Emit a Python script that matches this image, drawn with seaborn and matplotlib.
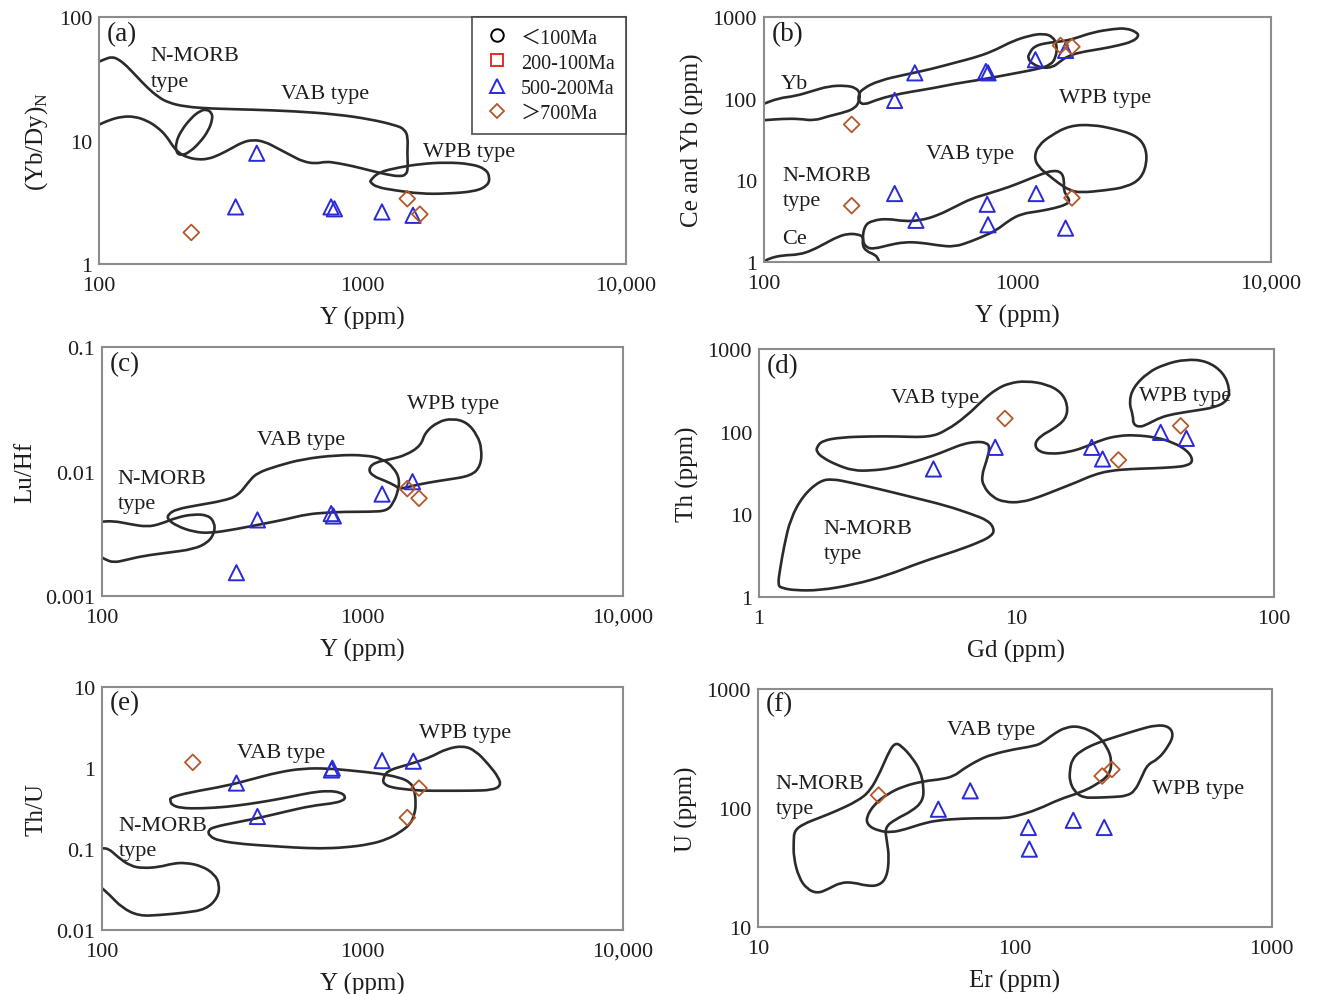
import numpy as np
import matplotlib
matplotlib.use("Agg")
import matplotlib.pyplot as plt
import seaborn as sns
from matplotlib.path import Path
from matplotlib.patches import PathPatch
from matplotlib.lines import Line2D
from matplotlib.ticker import FixedLocator, LogLocator, FuncFormatter, NullFormatter

sns.set_style("white")
plt.rcParams["font.family"] = ["Liberation Serif", "Noto Sans CJK SC"]
plt.rcParams["mathtext.fontset"] = "custom"
plt.rcParams["mathtext.rm"] = "Liberation Serif"

# ---------------- legend ----------------
LEGEND_LABELS = ["＜100Ma", "200-100Ma", "500-200Ma", "＞700Ma"]

# ---------------- sample data ----------------
A_TRI_X = [397, 330, 760, 783, 1186, 1556]
A_TRI_Y = [7.9, 2.9, 2.9, 2.8, 2.64, 2.48]
A_DIA_X = [224, 1480, 1652]
A_DIA_Y = [1.8, 3.38, 2.53]

B_YB_TRI_X = [328, 394, 751, 766, 1178, 1549]
B_YB_TRI_Y = [95.5, 208, 216, 208, 301, 392]
B_YB_DIA_X = [222, 1479, 1641]
B_YB_DIA_Y = [48.5, 450, 435]
B_CE_TRI_X = [328, 398, 760, 766, 1186, 1549]
B_CE_TRI_Y = [6.9, 3.24, 5.1, 2.86, 6.9, 2.6]
B_CE_DIA_X = [222, 1641]
B_CE_DIA_Y = [4.9, 6.1]

C_TRI_X = [395, 328, 758, 773, 1189, 1556]
C_TRI_Y = [0.00409, 0.00154, 0.0046, 0.0044, 0.0066, 0.0083]
C_DIA_X = [1486, 1648]
C_DIA_Y = [0.0073, 0.0061]

D_TRI_X = [4.76, 8.27, 19.6, 21.6, 36.3, 45.7]
D_TRI_Y = [35.5, 64.9, 64.9, 46.9, 98.4, 83.4]
D_DIA_X = [9.02, 24.9, 43.4]
D_DIA_Y = [145, 45.6, 118]

E_TRI_X = [328, 395, 766, 760, 1189, 1567]
E_TRI_Y = [0.655, 0.253, 1.0, 0.95, 1.24, 1.22]
E_DIA_X = [223, 1648, 1486]
E_DIA_Y = [1.18, 0.567, 0.245]

F_TRI_X = [50.4, 67.1, 113, 114, 169, 223]
F_TRI_Y = [97.6, 139, 68.6, 45.2, 78.8, 68.6]
F_DIA_X = [29.5, 219, 239]
F_DIA_Y = [128, 185, 210]

# ---------------- field outlines (log10 x, log10 y) ----------------
A_FIELD_MAIN = [(1.99, 1.63), (2.024, 1.662), (2.048, 1.678), (2.072, 1.662), (2.104, 1.608), (2.144, 1.517),
                (2.184, 1.428), (2.223, 1.356), (2.263, 1.307), (2.327, 1.275), (2.423, 1.259), (2.583, 1.251),
                (2.742, 1.238), (2.902, 1.213), (3.030, 1.173), (3.125, 1.125), (3.160, 1.093), (3.173, 1.026),
                (3.170, 0.905), (3.173, 0.770), (3.165, 0.722), (3.141, 0.709), (3.093, 0.725), (3.030, 0.757),
                (2.966, 0.792), (2.902, 0.819), (2.862, 0.830), (2.822, 0.813), (2.774, 0.830), (2.726, 0.883),
                (2.678, 0.937), (2.630, 0.991), (2.583, 1.007), (2.543, 0.985), (2.503, 0.937), (2.455, 0.883),
                (2.415, 0.851), (2.375, 0.846), (2.335, 0.864), (2.303, 0.899), (2.279, 0.958), (2.255, 1.039),
                (2.223, 1.106), (2.184, 1.160), (2.136, 1.195), (2.088, 1.195), (2.040, 1.168), (1.99, 1.119)]
A_FIELD_LOOP = [(2.407, 1.254), (2.428, 1.227), (2.431, 1.173), (2.415, 1.079), (2.383, 0.985), (2.343, 0.905),
                (2.311, 0.878), (2.292, 0.905), (2.292, 0.985), (2.311, 1.079), (2.351, 1.187), (2.383, 1.240)]
A_FIELD_WPB = [(3.030, 0.676), (3.061, 0.744), (3.141, 0.784), (3.221, 0.811), (3.317, 0.824), (3.413, 0.811),
               (3.468, 0.770), (3.484, 0.703), (3.476, 0.636), (3.429, 0.588), (3.317, 0.569), (3.221, 0.569),
               (3.125, 0.596), (3.053, 0.623), (3.030, 0.663)]

B_YB_NMORB = [(1.99, 1.927), (2.058, 2.008), (2.124, 2.033), (2.190, 2.094), (2.256, 2.155), (2.322, 2.163),
              (2.364, 2.135), (2.380, 2.061), (2.375, 1.959), (2.359, 1.886), (2.322, 1.837), (2.256, 1.788),
              (2.198, 1.731), (2.140, 1.755), (2.074, 1.755), (1.99, 1.735)]
B_YB_VAB = [(2.372, 2.041), (2.388, 2.122), (2.455, 2.224), (2.554, 2.294), (2.653, 2.359), (2.752, 2.441),
            (2.851, 2.522), (2.917, 2.604), (2.983, 2.710), (3.050, 2.776), (3.102, 2.800), (3.140, 2.763),
            (3.157, 2.653), (3.152, 2.510), (3.132, 2.416), (3.083, 2.367), (3.000, 2.318), (2.917, 2.269),
            (2.835, 2.224), (2.752, 2.184), (2.669, 2.131), (2.587, 2.090), (2.504, 2.041), (2.438, 1.980),
            (2.397, 1.927), (2.375, 1.959)]
B_YB_WPB = [(3.046, 2.551), (3.066, 2.645), (3.116, 2.686), (3.174, 2.702), (3.223, 2.735), (3.298, 2.816),
            (3.380, 2.857), (3.430, 2.865), (3.471, 2.816), (3.479, 2.767), (3.455, 2.702), (3.397, 2.653),
            (3.331, 2.612), (3.248, 2.571), (3.198, 2.522), (3.165, 2.449), (3.140, 2.388), (3.099, 2.376),
            (3.058, 2.429), (3.041, 2.498)]
B_CE_NMORB = [(1.99, -0.01), (2.025, 0.049), (2.074, 0.082), (2.140, 0.090), (2.190, 0.143), (2.240, 0.224),
              (2.289, 0.306), (2.331, 0.347), (2.372, 0.339), (2.393, 0.306), (2.388, 0.204), (2.405, 0.131),
              (2.438, 0.090), (2.451, 0.041), (2.455, -0.01)]
B_CE_VAB = [(2.397, 0.449), (2.430, 0.510), (2.488, 0.531), (2.554, 0.498), (2.620, 0.510), (2.686, 0.571),
            (2.752, 0.673), (2.818, 0.776), (2.884, 0.837), (2.967, 0.918), (3.033, 1.000), (3.099, 1.082),
            (3.140, 1.122), (3.174, 1.102), (3.185, 1.000), (3.182, 0.878), (3.198, 0.796), (3.207, 0.743),
            (3.190, 0.702), (3.149, 0.661), (3.083, 0.620), (3.017, 0.592), (2.967, 0.510), (2.917, 0.388),
            (2.868, 0.318), (2.818, 0.253), (2.752, 0.184), (2.686, 0.204), (2.620, 0.237), (2.554, 0.245),
            (2.488, 0.204), (2.438, 0.163), (2.405, 0.171), (2.388, 0.265)]
B_CE_WPB = [(3.066, 1.286), (3.083, 1.429), (3.132, 1.551), (3.207, 1.673), (3.298, 1.682), (3.380, 1.633),
            (3.463, 1.559), (3.504, 1.429), (3.512, 1.224), (3.488, 1.020), (3.430, 0.918), (3.347, 0.878),
            (3.248, 0.849), (3.207, 0.878), (3.165, 0.959), (3.124, 1.061), (3.083, 1.163)]

C_NMORB = [(1.99, -2.404), (2.044, -2.396), (2.108, -2.423), (2.173, -2.444), (2.222, -2.423), (2.286, -2.369),
           (2.351, -2.342), (2.407, -2.350), (2.432, -2.409), (2.432, -2.490), (2.407, -2.570), (2.351, -2.624),
           (2.254, -2.651), (2.157, -2.678), (2.092, -2.710), (2.044, -2.732), (2.011, -2.705), (1.99, -2.678)]
C_VAB = [(2.254, -2.342), (2.286, -2.302), (2.367, -2.270), (2.464, -2.235), (2.521, -2.195), (2.561, -2.087),
         (2.593, -2.012), (2.674, -1.953), (2.771, -1.899), (2.901, -1.867), (3.014, -1.867), (3.078, -1.899),
         (3.119, -1.966), (3.143, -2.060), (3.135, -2.168), (3.119, -2.248), (3.095, -2.315), (3.030, -2.323),
         (2.933, -2.323), (2.868, -2.329), (2.787, -2.342), (2.707, -2.383), (2.610, -2.423), (2.513, -2.463),
         (2.416, -2.495), (2.351, -2.485), (2.286, -2.436), (2.251, -2.383)]
C_WPB = [(3.022, -1.980), (3.046, -1.926), (3.111, -1.899), (3.167, -1.867), (3.224, -1.792), (3.240, -1.685),
         (3.289, -1.599), (3.345, -1.572), (3.402, -1.604), (3.442, -1.711), (3.458, -1.819), (3.454, -1.953),
         (3.418, -2.034), (3.321, -2.066), (3.256, -2.087), (3.192, -2.114), (3.143, -2.141), (3.127, -2.114),
         (3.087, -2.074), (3.038, -2.034)]

D_VAB = [(0.224, 1.812), (0.245, 1.892), (0.318, 1.933), (0.433, 1.945), (0.531, 1.945), (0.661, 1.933),
         (0.727, 2.013), (0.808, 2.195), (0.873, 2.396), (0.922, 2.517), (0.971, 2.589), (1.037, 2.617),
         (1.118, 2.577), (1.176, 2.476), (1.200, 2.315), (1.192, 2.154), (1.143, 2.033), (1.094, 1.953),
         (1.069, 1.852), (1.086, 1.760), (1.135, 1.731), (1.200, 1.752), (1.265, 1.812), (1.331, 1.905),
         (1.396, 1.953), (1.461, 1.961), (1.543, 1.933), (1.608, 1.872), (1.665, 1.772), (1.687, 1.651),
         (1.665, 1.590), (1.608, 1.570), (1.527, 1.558), (1.445, 1.550), (1.363, 1.530), (1.298, 1.478),
         (1.233, 1.389), (1.167, 1.309), (1.086, 1.208), (1.020, 1.147), (0.955, 1.147), (0.906, 1.208),
         (0.870, 1.349), (0.865, 1.470), (0.882, 1.631), (0.898, 1.812), (0.882, 1.872), (0.841, 1.880),
         (0.792, 1.852), (0.743, 1.792), (0.678, 1.711), (0.596, 1.631), (0.514, 1.558), (0.433, 1.530),
         (0.367, 1.530), (0.302, 1.598), (0.245, 1.691), (0.224, 1.760)]
D_NMORB = [(0.073, 0.141), (0.082, 0.342), (0.098, 0.624), (0.122, 0.946), (0.171, 1.228), (0.237, 1.409),
           (0.286, 1.429), (0.351, 1.389), (0.465, 1.309), (0.596, 1.208), (0.727, 1.107), (0.824, 1.006),
           (0.890, 0.926), (0.914, 0.825), (0.906, 0.745), (0.857, 0.664), (0.759, 0.551), (0.629, 0.422),
           (0.498, 0.261), (0.367, 0.149), (0.237, 0.080), (0.139, 0.080), (0.090, 0.108)]
D_WPB = [(1.453, 2.195), (1.437, 2.356), (1.453, 2.537), (1.510, 2.718), (1.576, 2.819), (1.657, 2.879),
         (1.739, 2.859), (1.804, 2.718), (1.829, 2.517), (1.820, 2.376), (1.771, 2.295), (1.690, 2.255),
         (1.608, 2.215), (1.559, 2.174), (1.510, 2.094), (1.478, 2.054), (1.453, 2.094)]

E_VAB = [(2.262, -0.362), (2.335, -0.300), (2.480, -0.217), (2.577, -0.135), (2.674, -0.052), (2.771, -0.003),
         (2.868, -0.003), (2.965, -0.032), (3.062, -0.065), (3.143, -0.114), (3.184, -0.176), (3.200, -0.271),
         (3.205, -0.444), (3.200, -0.568), (3.184, -0.692), (3.143, -0.795), (3.095, -0.878), (3.030, -0.940),
         (2.933, -0.981), (2.836, -0.993), (2.739, -0.981), (2.642, -0.960), (2.545, -0.940), (2.448, -0.898),
         (2.411, -0.837), (2.407, -0.766), (2.432, -0.725), (2.513, -0.671), (2.610, -0.610), (2.707, -0.535),
         (2.804, -0.465), (2.884, -0.436), (2.925, -0.403), (2.936, -0.354), (2.917, -0.300), (2.868, -0.279),
         (2.804, -0.300), (2.723, -0.354), (2.642, -0.403), (2.561, -0.444), (2.480, -0.478), (2.383, -0.498),
         (2.302, -0.494), (2.267, -0.453), (2.262, -0.403)]
E_WPB = [(3.078, -0.135), (3.095, -0.032), (3.159, 0.030), (3.224, 0.092), (3.272, 0.154), (3.321, 0.237),
         (3.386, 0.278), (3.434, 0.216), (3.483, 0.051), (3.523, -0.114), (3.531, -0.217), (3.499, -0.271),
         (3.418, -0.279), (3.321, -0.279), (3.224, -0.279), (3.159, -0.259), (3.111, -0.238), (3.082, -0.197)]
E_NMORB = [(1.99, -0.993), (2.024, -0.989), (2.060, -1.097), (2.108, -1.208), (2.157, -1.237), (2.222, -1.220),
           (2.270, -1.179), (2.319, -1.167), (2.383, -1.208), (2.432, -1.311), (2.451, -1.435), (2.445, -1.600),
           (2.399, -1.745), (2.319, -1.786), (2.222, -1.815), (2.141, -1.827), (2.076, -1.724), (2.027, -1.559),
           (1.99, -1.456)]

F_NMORB = [(1.142, 1.808), (1.175, 1.864), (1.241, 1.919), (1.306, 1.975), (1.388, 2.058), (1.437, 2.142),
           (1.478, 2.309), (1.511, 2.476), (1.535, 2.546), (1.560, 2.518), (1.601, 2.421), (1.633, 2.309),
           (1.646, 2.170), (1.642, 2.058), (1.601, 1.975), (1.535, 1.905), (1.494, 1.836), (1.502, 1.724),
           (1.511, 1.585), (1.502, 1.418), (1.470, 1.348), (1.421, 1.348), (1.372, 1.376), (1.322, 1.376),
           (1.273, 1.320), (1.232, 1.284), (1.191, 1.320), (1.159, 1.418), (1.139, 1.585), (1.139, 1.724)]
F_VAB = [(1.421, 1.919), (1.453, 2.031), (1.502, 2.114), (1.568, 2.184), (1.650, 2.226), (1.715, 2.240),
         (1.764, 2.267), (1.797, 2.323), (1.863, 2.407), (1.912, 2.448), (1.993, 2.490), (2.075, 2.518),
         (2.108, 2.546), (2.149, 2.616), (2.198, 2.677), (2.255, 2.685), (2.321, 2.616), (2.362, 2.504),
         (2.378, 2.393), (2.370, 2.281), (2.321, 2.198), (2.255, 2.128), (2.173, 2.072), (2.092, 1.989),
         (2.010, 1.933), (1.961, 1.914), (1.879, 1.914), (1.797, 1.911), (1.699, 1.897), (1.633, 1.864),
         (1.576, 1.822), (1.519, 1.794), (1.470, 1.808), (1.429, 1.850)]
F_WPB = [(2.214, 2.309), (2.223, 2.407), (2.255, 2.476), (2.321, 2.546), (2.403, 2.602), (2.484, 2.657),
         (2.550, 2.694), (2.599, 2.685), (2.619, 2.616), (2.599, 2.518), (2.558, 2.407), (2.517, 2.365),
         (2.493, 2.253), (2.468, 2.142), (2.435, 2.100), (2.386, 2.092), (2.321, 2.086), (2.264, 2.086),
         (2.231, 2.142), (2.214, 2.226)]

# ---------------- style ----------------
BLUE = "#2a2ad8"
BROWN = "#b3582a"
RED = "#e0302a"
FIELD_COLOR = "#2b2b2b"
SPINE = "#8c8c8c"
TXT = "#1e1e1e"


def add_field(ax, pts, closed=True):
    p = np.asarray(pts, dtype=float)
    n = len(p)
    verts, codes = [], []
    if closed:
        mids = (p + np.roll(p, -1, axis=0)) / 2.0
        verts.append(mids[-1]); codes.append(Path.MOVETO)
        for i in range(n):
            verts += [p[i], mids[i]]
            codes += [Path.CURVE3, Path.CURVE3]
        verts.append(mids[-1]); codes.append(Path.CLOSEPOLY)
    else:
        mids = (p[:-1] + p[1:]) / 2.0
        verts += [p[0], mids[0]]; codes += [Path.MOVETO, Path.LINETO]
        for i in range(1, n - 1):
            verts += [p[i], mids[i]]
            codes += [Path.CURVE3, Path.CURVE3]
        verts.append(p[-1]); codes.append(Path.LINETO)
    verts = 10.0 ** np.asarray(verts)
    patch = PathPatch(Path(verts, codes), facecolor="none", edgecolor=FIELD_COLOR,
                      lw=1.9, joinstyle="round", capstyle="round", zorder=2)
    ax.add_patch(patch)


def pts(ax, x, y, kind):
    if kind == "tri":
        sns.scatterplot(x=x, y=y, ax=ax, marker="^", s=120, color=BLUE,
                        facecolor="none", edgecolor=BLUE, linewidth=1.4, zorder=4)
    else:
        sns.scatterplot(x=x, y=y, ax=ax, marker="D", s=64, color=BROWN,
                        facecolor="none", edgecolor=BROWN, linewidth=1.3, zorder=4)


def fmt(v, _):
    if v >= 10000:
        return "{:,.0f}".format(v)
    return "{:g}".format(v)


def setup(ax, xlim, ylim, xlabel, ylabel, letter):
    ax.set_xscale("log")
    ax.set_yscale("log")
    ax.set_xlim(*xlim)
    ax.set_ylim(*ylim)
    for axis, lim in ((ax.xaxis, xlim), (ax.yaxis, ylim)):
        e0, e1 = int(round(np.log10(lim[0]))), int(round(np.log10(lim[1])))
        axis.set_major_locator(FixedLocator([10.0 ** e for e in range(e0, e1 + 1)]))
        axis.set_minor_locator(LogLocator(base=10, subs=np.arange(2, 10), numticks=20))
        axis.set_major_formatter(FuncFormatter(fmt))
        axis.set_minor_formatter(NullFormatter())
    for s in ax.spines.values():
        s.set_color(SPINE)
        s.set_linewidth(1.5)
    ax.tick_params(which="both", direction="in", color=SPINE, top=False, right=False,
                   labelsize=16, labelcolor=TXT)
    ax.tick_params(axis="x", which="both", pad=8.5)
    ax.tick_params(axis="y", which="both", pad=5)
    ax.tick_params(which="major", length=6, width=1.2)
    ax.tick_params(which="minor", length=4, width=1.0)
    ax.set_xlabel(xlabel, fontsize=18, color=TXT, labelpad=8)
    ax.set_ylabel(ylabel, fontsize=18, color=TXT, labelpad=6)
    ax.text(0.015, 0.935, letter, transform=ax.transAxes, fontsize=19.5, color=TXT,
            ha="left", va="center")


def label(ax, x, y, s):
    ax.text(x, y, s, transform=ax.transAxes, fontsize=16, color=TXT,
            ha="left", va="center", zorder=3)


fig = plt.figure(figsize=(13.17, 9.95), dpi=100)

# (a)
ax = fig.add_axes([0.0752, 0.7337, 0.400, 0.248])
add_field(ax, A_FIELD_MAIN, closed=False)
add_field(ax, A_FIELD_LOOP)
add_field(ax, A_FIELD_WPB)
pts(ax, A_TRI_X, A_TRI_Y, "tri")
pts(ax, A_DIA_X, A_DIA_Y, "dia")
setup(ax, (100, 10000), (1, 100), "Y (ppm)", r"(Yb/Dy)$_\mathregular{N}$", "(a)")
label(ax, 0.098, 0.844, "N-MORB")
label(ax, 0.098, 0.741, "type")
label(ax, 0.346, 0.691, "VAB type")
label(ax, 0.615, 0.456, "WPB type")
handles = [
    Line2D([], [], ls="none", marker="o", ms=9, mfc="none", mec="black", mew=1.4),
    Line2D([], [], ls="none", marker="s", ms=9, mfc="none", mec=RED, mew=1.4),
    Line2D([], [], ls="none", marker="^", ms=10, mfc="none", mec=BLUE, mew=1.4),
    Line2D([], [], ls="none", marker="D", ms=7, mfc="none", mec=BROWN, mew=1.3),
]
leg = ax.legend(handles, LEGEND_LABELS, loc="upper right", bbox_to_anchor=(1.0, 1.0),
                borderaxespad=0.0, frameon=True, fancybox=False, fontsize=14.5,
                handlelength=1.4, handletextpad=0.5, borderpad=0.55, labelspacing=0.3)
leg.get_frame().set_edgecolor("#333333")
leg.get_frame().set_linewidth(1.3)
for t in leg.get_texts():
    t.set_color(TXT)

# (b)
ax = fig.add_axes([0.580, 0.7357, 0.385, 0.246])
for f, c in ((B_YB_NMORB, False), (B_YB_VAB, True), (B_YB_WPB, True),
             (B_CE_NMORB, False), (B_CE_VAB, True), (B_CE_WPB, True)):
    add_field(ax, f, closed=c)
pts(ax, B_YB_TRI_X, B_YB_TRI_Y, "tri")
pts(ax, B_YB_DIA_X, B_YB_DIA_Y, "dia")
pts(ax, B_CE_TRI_X, B_CE_TRI_Y, "tri")
pts(ax, B_CE_DIA_X, B_CE_DIA_Y, "dia")
setup(ax, (100, 10000), (1, 1000), "Y (ppm)", "Ce and Yb (ppm)", "(b)")
label(ax, 0.033, 0.728, "Yb")
label(ax, 0.583, 0.673, "WPB type")
label(ax, 0.320, 0.442, "VAB type")
label(ax, 0.037, 0.354, "N-MORB")
label(ax, 0.037, 0.252, "type")
label(ax, 0.036, 0.095, "Ce")

# (c)
ax = fig.add_axes([0.0775, 0.400, 0.3955, 0.250])
add_field(ax, C_NMORB, closed=False)
add_field(ax, C_VAB)
add_field(ax, C_WPB)
pts(ax, C_TRI_X, C_TRI_Y, "tri")
pts(ax, C_DIA_X, C_DIA_Y, "dia")
setup(ax, (100, 10000), (0.001, 0.1), "Y (ppm)", "Lu/Hf", "(c)")
label(ax, 0.586, 0.772, "WPB type")
label(ax, 0.297, 0.631, "VAB type")
label(ax, 0.030, 0.472, "N-MORB")
label(ax, 0.030, 0.373, "type")

# (d)
ax = fig.add_axes([0.5763, 0.399, 0.391, 0.249])
add_field(ax, D_VAB)
add_field(ax, D_NMORB)
add_field(ax, D_WPB)
pts(ax, D_TRI_X, D_TRI_Y, "tri")
pts(ax, D_DIA_X, D_DIA_Y, "dia")
setup(ax, (1, 100), (1, 1000), "Gd (ppm)", "Th (ppm)", "(d)")
label(ax, 0.256, 0.805, "VAB type")
label(ax, 0.737, 0.812, "WPB type")
label(ax, 0.125, 0.278, "N-MORB")
label(ax, 0.125, 0.174, "type")

# (e)
ax = fig.add_axes([0.0775, 0.0643, 0.3955, 0.244])
add_field(ax, E_VAB)
add_field(ax, E_WPB)
add_field(ax, E_NMORB, closed=False)
pts(ax, E_TRI_X, E_TRI_Y, "tri")
pts(ax, E_DIA_X, E_DIA_Y, "dia")
setup(ax, (100, 10000), (0.01, 10), "Y (ppm)", "Th/U", "(e)")
label(ax, 0.608, 0.814, "WPB type")
label(ax, 0.260, 0.732, "VAB type")
label(ax, 0.032, 0.429, "N-MORB")
label(ax, 0.032, 0.326, "type")

# (f)
ax = fig.add_axes([0.5755, 0.067, 0.390, 0.240])
add_field(ax, F_NMORB)
add_field(ax, F_VAB)
add_field(ax, F_WPB)
pts(ax, F_TRI_X, F_TRI_Y, "tri")
pts(ax, F_DIA_X, F_DIA_Y, "dia")
setup(ax, (10, 1000), (10, 1000), "Er (ppm)", "U (ppm)", "(f)")
label(ax, 0.368, 0.829, "VAB type")
label(ax, 0.034, 0.602, "N-MORB")
label(ax, 0.034, 0.499, "type")
label(ax, 0.767, 0.582, "WPB type")

fig.savefig("out.png", dpi=100)
